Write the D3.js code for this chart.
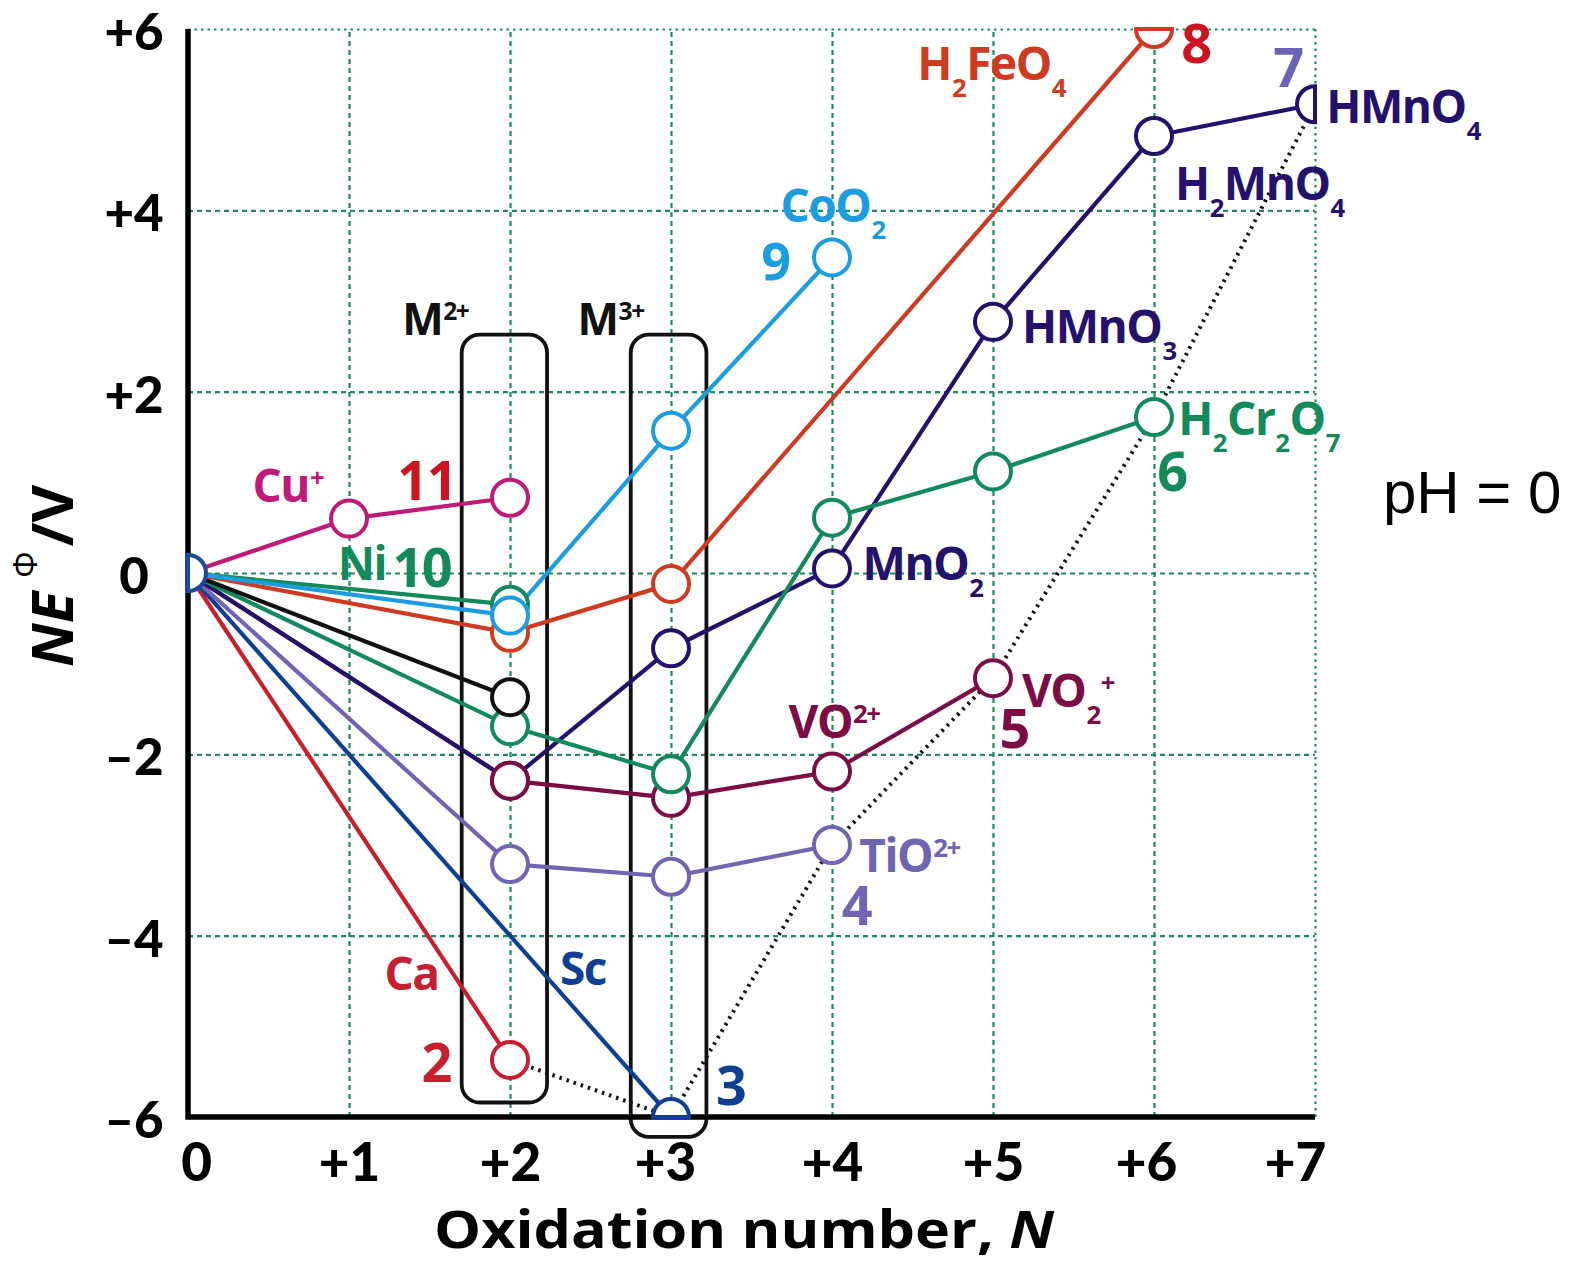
<!DOCTYPE html>
<html>
<head>
<meta charset="utf-8">
<script src="https://cdn.jsdelivr.net/npm/d3@7"></script>
<style>
  body { margin: 0; background: #fff; }
  svg text { font-family: "Open Sans", sans-serif; }
</style>
</head>
<body>
<div class="canvas"></div>
<script>
// Frost diagram of the first transition row, pH = 0

const oxTicks = [0, 1, 2, 3, 4, 5, 6, 7];
const oxTickLabels = ['0', '+1', '+2', '+3', '+4', '+5', '+6', '+7'];
const neTicks = [6, 4, 2, 0, -2, -4, -6];
const neTickLabels = ['+6', '+4', '+2', '0', '\u20132', '\u20134', '\u20136'];

// oxidation number N and NE (V)
const caN = [0, 2],                caE = [0, -5.37];
const scN = [0, 3],                scE = [0, -6];
const tiN = [0, 2, 3, 4],          tiE = [0, -3.21, -3.35, -3.0];
const vN  = [0, 2, 3, 4, 5],       vE  = [0, -2.29, -2.48, -2.19, -1.16];
const crN = [0, 2, 3, 4, 5, 6],    crE = [0, -1.69, -2.22, 0.61, 1.12, 1.72];
const mnN = [0, 2, 3, 4, 5, 6, 7], mnE = [0, -2.29, -0.83, 0.05, 2.77, 4.82, 5.17];
const feN = [0, 2, 3, 6],          feE = [0, -0.66, -0.12, 6];
const coN = [0, 2, 3, 4],          coE = [0, -0.47, 1.57, 3.48];
const niN = [0, 2],                niE = [0, -0.35];
const cuN = [0, 1, 2],             cuE = [0, 0.6, 0.83];
const bkN = [0, 2],                bkE = [0, -1.37];   // black, unlabelled

const col = {
  ca: '#c62030', sc: '#0f3f93', ti: '#7065b3', v: '#7b0c46', cr: '#138a5c',
  mn: '#24116c', fe: '#cd3b21', co: '#1c9de0', ni: '#138a5c', cu: '#bf1a79',
  bk: '#111111', red: '#cc1420', seven: '#6b63b5', grid: '#1b8a5c'
};

const series = {
  ca: d3.zip(caN, caE), sc: d3.zip(scN, scE), ti: d3.zip(tiN, tiE),
  v: d3.zip(vN, vE), cr: d3.zip(crN, crE), mn: d3.zip(mnN, mnE),
  fe: d3.zip(feN, feE), co: d3.zip(coN, coE), ni: d3.zip(niN, niE),
  cu: d3.zip(cuN, cuE), bk: d3.zip(bkN, bkE)
};

const lineOrder = ['ca', 'sc', 'ti', 'v', 'mn', 'cr', 'bk', 'fe', 'ni', 'co', 'cu'];
const dotOrder  = ['ca', 'sc', 'ti', 'mn', 'v', 'fe', 'ni', 'cr', 'bk', 'co', 'cu'];
const groupOrder = ['ca', 'sc', 'ti', 'v', 'cr', 'mn'];   // dotted: highest states

// text labels: [text, N, NE, colour, size]
const notes = [
  ['Cu^+', 0.40, 0.78, col.cu, 46], ['11', 1.30, 0.80, col.red, 54],
  ['Ni', 0.93, -0.08, col.ni, 46], ['10', 1.27, -0.15, col.ni, 54],
  ['Ca', 1.22, -4.60, col.ca, 46], ['2', 1.45, -5.61, col.ca, 54],
  ['Sc', 2.31, -4.54, col.sc, 46], ['3', 3.28, -5.87, col.sc, 54],
  ['TiO^2+', 4.17, -3.30, col.ti, 46], ['4', 4.06, -3.88, col.ti, 54],
  ['VO^2+', 3.73, -1.82, col.v, 46], ['VO_2^+', 5.18, -1.48, col.v, 46],
  ['5', 5.04, -1.93, col.v, 54],
  ['MnO_2', 4.19, -0.08, col.mn, 46], ['HMnO_3', 5.18, 2.54, col.mn, 46],
  ['H_2MnO_4', 6.13, 4.11, col.mn, 46], ['HMnO_4', 7.07, 4.96, col.mn, 46],
  ['7', 6.74, 5.36, col.seven, 54],
  ['H_2Cr_2O_7', 6.15, 1.52, col.cr, 46], ['6', 6.02, 0.90, col.cr, 54],
  ['H_2FeO_4', 4.53, 5.44, col.fe, 46], ['8', 6.17, 5.63, col.red, 54],
  ['CoO_2', 3.68, 3.87, col.co, 46], ['9', 3.56, 3.23, col.co, 52],
  ['M^2+', 1.33, 2.62, '#111', 44], ['M^3+', 2.42, 2.62, '#111', 44]
];

// rounded boxes round M2+ and M3+: [N left, N right, NE top, NE bottom]
const boxes = [[1.70, 2.23, 2.63, -5.84], [2.75, 3.22, 2.63, -6.22]];

const width = 1573, height = 1267;
const svg = d3.select('.canvas')
  .append('svg')
    .attr('width', width)
    .attr('height', height);

const x = d3.scaleLinear().domain([0, 7]).range([188, 1315]);
const y = d3.scaleLinear().domain([-6, 6]).range([1117, 29]);

// grid
const gridV = svg.append('g')
  .attr('transform', `translate(0,${y(-6)})`)
  .call(d3.axisBottom(x).tickValues(oxTicks.slice(1)).tickSize(y(6) - y(-6)).tickFormat(''));
const gridH = svg.append('g')
  .attr('transform', `translate(${x(0)},0)`)
  .call(d3.axisLeft(y).tickValues(neTicks.slice(0, -1)).tickSize(x(0) - x(7)).tickFormat(''));
[gridV, gridH].forEach(g => {
  g.select('.domain').remove();
  g.selectAll('line')
    .attr('stroke', col.grid)
    .attr('stroke-width', 2.2)
    .attr('stroke-dasharray', '5,4');
});
gridV.selectAll('.tick').filter(d => d === 7).select('line').attr('stroke-dasharray', '2.5,4');
gridH.selectAll('.tick').filter(d => d === 6).select('line').attr('stroke-dasharray', '2.5,4');

// boxes
svg.append('g').selectAll('rect')
  .data(boxes)
  .enter().append('rect')
    .attr('x', d => x(d[0]))
    .attr('y', d => y(d[2]))
    .attr('width', d => x(d[1]) - x(d[0]))
    .attr('height', d => y(d[3]) - y(d[2]))
    .attr('rx', 18)
    .attr('fill', 'none')
    .attr('stroke', '#111')
    .attr('stroke-width', 3.8);

// axes frame
svg.append('path')
  .attr('d', `M${x(0)},${y(6)}V${y(-6)}H${x(7)}`)
  .attr('fill', 'none')
  .attr('stroke', '#000')
  .attr('stroke-width', 5.5);

// tick labels
const tickFont = 'Lato, "Open Sans", sans-serif';
const yAxis = svg.append('g')
  .attr('transform', `translate(${x(0)},0)`)
  .call(d3.axisLeft(y).tickValues(neTicks).tickSize(0).tickFormat((d, i) => neTickLabels[i]));
yAxis.select('.domain').remove();
yAxis.selectAll('text')
  .attr('x', -54)
  .attr('dy', '0.40em')
  .attr('text-anchor', 'middle')
  .attr('font-size', 51)
  .style('font-family', tickFont)
  .style('font-weight', 900)
  .attr('fill', '#000');

const nudge = {0: 8, 3: -6, 6: -8, 7: -20};
const xAxis = svg.append('g')
  .attr('transform', `translate(0,${y(-6)})`)
  .call(d3.axisBottom(x).tickValues(oxTicks).tickSize(0).tickFormat((d, i) => oxTickLabels[i]));
xAxis.select('.domain').remove();
xAxis.selectAll('text')
  .attr('y', 64)
  .attr('dy', 0)
  .attr('dx', d => nudge[d] || 0)
  .attr('font-size', 53)
  .style('font-family', tickFont)
  .style('font-weight', 900)
  .attr('fill', '#000');

// series lines
const line = d3.line().x(d => x(d[0])).y(d => y(d[1]));
const lines = svg.append('g');
lineOrder.forEach(k => {
  lines.append('path')
    .attr('d', line(series[k]))
    .attr('fill', 'none')
    .attr('stroke', col[k])
    .attr('stroke-width', 4.2)
    .attr('stroke-linejoin', 'round');
});

// dotted line through the group oxidation states
svg.append('path')
  .attr('d', line(groupOrder.map(k => series[k][series[k].length - 1])))
  .attr('fill', 'none')
  .attr('stroke', '#111')
  .attr('stroke-width', 4)
  .attr('stroke-dasharray', '2.5,5');

// markers
const r = 18;
const half = d3.arc().innerRadius(0).outerRadius(r);
const dots = svg.append('g');
function marker(p, c) {
  let a = null;
  if (p[1] === 6) a = Math.PI / 2;
  else if (p[1] === -6) a = -Math.PI / 2;
  else if (p[0] === 7) a = Math.PI;
  else if (p[0] === 0) a = 0;
  if (a === null) {
    dots.append('circle')
      .attr('cx', x(p[0])).attr('cy', y(p[1])).attr('r', r)
      .attr('fill', '#fff').attr('stroke', c).attr('stroke-width', 4);
  } else {
    dots.append('path')
      .attr('transform', `translate(${x(p[0])},${y(p[1])})`)
      .attr('d', half({startAngle: a, endAngle: a + Math.PI}))
      .attr('fill', '#fff').attr('stroke', c).attr('stroke-width', 4);
  }
}
dotOrder.forEach(k => series[k].slice(1).forEach(p => marker(p, col[k])));
marker([0, 0], '#1d4a9c');

// labels with sub/superscripts: H_2FeO_4, VO^2+
function rich(t, str, size) {
  const parts = str.split(/(_\d+|\^[\d+]+)/).filter(s => s);
  let shift = 0;
  parts.forEach(p => {
    const ts = t.append('tspan');
    if (p[0] === '_') {
      ts.text(p.slice(1)).attr('font-size', size * 0.56).attr('dx', 1).attr('dy', 17 - shift);
      shift = 17;
    } else if (p[0] === '^') {
      ts.text(p.slice(1)).attr('font-size', size * 0.56).attr('dx', 1).attr('dy', -15 - shift);
      shift = -15;
    } else {
      ts.text(p).attr('dx', shift ? 1 : 0).attr('dy', -shift);
      shift = 0;
    }
  });
}

const labels = svg.append('g');
notes.forEach(n => {
  const t = labels.append('text')
    .attr('x', x(n[1]))
    .attr('y', y(n[2]))
    .attr('fill', n[3])
    .attr('font-size', n[4])
    .style('font-weight', 700)
    .style('letter-spacing', '-1.5px');
  rich(t, n[0], n[4]);
});

// axis titles
const xt = svg.append('text')
  .attr('x', 434)
  .attr('y', y(-6) + 131)
  .attr('font-size', 52)
  .attr('textLength', 620)
  .attr('lengthAdjust', 'spacingAndGlyphs')
  .style('font-weight', 700);
xt.append('tspan').text('Oxidation number, ');
xt.append('tspan').attr('font-style', 'italic').text('N');

const yt = svg.append('text')
  .attr('transform', `translate(73,667) rotate(-90)`)
  .attr('font-size', 58)
  .style('font-weight', 700);
yt.append('tspan').attr('font-style', 'italic').text('NE');
yt.append('tspan').style('font-weight', 400).attr('font-size', 33).attr('dx', 14).attr('dy', -36).text('\u03A6');
yt.append('tspan').attr('dx', 5).attr('dy', 36).text('/V');

svg.append('text')
  .attr('x', 1383)
  .attr('y', 513)
  .attr('font-size', 60)
  .attr('fill', '#000')
  .style('font-family', '"Liberation Sans", Arial, sans-serif')
  .style('font-weight', 400)
  .text('pH = 0');
</script>
</body>
</html>
